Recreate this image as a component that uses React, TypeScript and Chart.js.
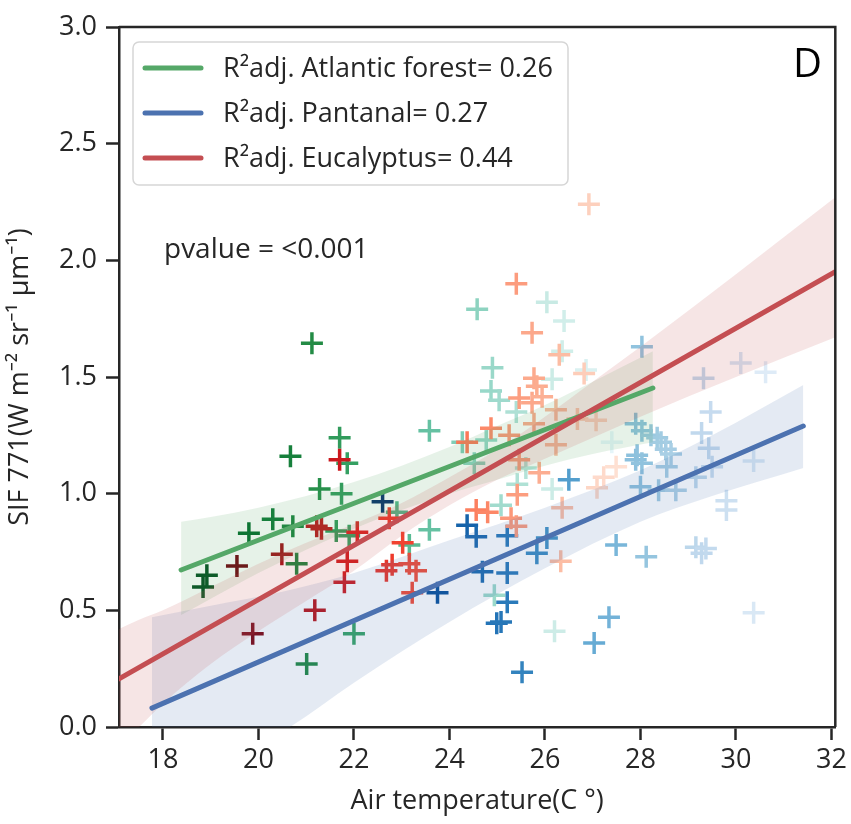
import { useEffect, useRef } from "react";
import { Chart, registerables } from "chart.js";

Chart.register(...registerables);

// ---------- data ----------
const xTicks = [18, 20, 22, 24, 26, 28, 30, 32];
const yTicks = [0, 0.5, 1.0, 1.5, 2.0, 2.5, 3.0];
const seriesNames = ["Atlantic forest", "Pantanal", "Eucalyptus"];
const r2Values = ["0.26", "0.27", "0.44"];
const pValueText = "pvalue = <0.001";
const panelLabel = "D";
const xTitle = "Air temperature(C \u00B0)";
const yTitle = "SIF 771(W m\u207B\u00B2 sr\u207B\u00B9 \u03BCm\u207B\u00B9)";

const forestX = [18.84, 18.92, 19.8, 20.3, 20.72, 20.8, 20.67, 21.01, 21.12, 21.28, 21.63, 21.7, 21.74, 21.86, 21.9, 22.0, 22.9, 23.16, 23.58, 23.58, 24.27, 24.52, 24.58, 24.77, 24.87, 24.9, 24.94, 25.04, 25.08, 25.4, 25.42, 25.6, 26.04, 26.15, 26.15, 26.2, 26.36, 26.4, 26.86, 27.4];
const forestY = [0.6, 0.65, 0.83, 0.89, 0.86, 0.7, 1.16, 0.27, 1.645, 1.02, 0.84, 1.24, 1.0, 1.13, 0.82, 0.4, 0.92, 0.78, 1.27, 0.845, 1.22, 1.13, 1.79, 1.23, 1.44, 1.54, 0.565, 1.4, 0.95, 1.35, 1.04, 1.11, 1.82, 1.49, 1.02, 0.41, 1.61, 1.74, 1.53, 1.22];

const pantanalX = [22.6, 23.75, 24.37, 24.56, 24.69, 24.99, 25.08, 25.21, 25.21, 25.21, 25.52, 25.83, 26.04, 26.5, 27.03, 27.34, 27.49, 27.9, 27.9, 27.93, 28.0, 28.03, 28.03, 28.03, 28.12, 28.22, 28.35, 28.38, 28.43, 28.53, 28.55, 28.64, 28.74, 29.16, 29.16, 29.28, 29.28, 29.32, 29.37, 29.43, 29.47, 29.5, 29.8, 29.8, 30.1, 30.37, 30.37, 30.62];
const pantanalY = [0.965, 0.575, 0.865, 0.815, 0.665, 0.445, 0.45, 0.82, 0.66, 0.535, 0.235, 0.745, 0.81, 1.06, 0.36, 0.47, 0.78, 1.3, 1.145, 1.165, 1.03, 1.63, 1.27, 1.13, 0.73, 1.25, 1.24, 1.015, 1.22, 1.19, 1.115, 1.17, 1.015, 1.07, 0.77, 1.26, 0.745, 1.495, 0.765, 1.195, 1.35, 1.115, 0.97, 0.93, 1.56, 1.14, 0.49, 1.52];

const eucalyptusX = [19.55, 19.88, 20.49, 21.18, 21.22, 21.32, 21.7, 21.8, 21.86, 22.07, 22.68, 22.74, 22.8, 23.02, 23.16, 23.22, 23.3, 24.37, 24.56, 24.8, 24.87, 25.25, 25.29, 25.4, 25.4, 25.42, 25.46, 25.46, 25.73, 25.73, 25.77, 25.77, 25.83, 25.88, 25.94, 26.23, 26.23, 26.3, 26.33, 26.36, 26.68, 26.82, 26.92, 27.07, 27.09, 27.23, 27.49];
const eucalyptusY = [0.69, 0.4, 0.74, 0.5, 0.86, 0.85, 1.145, 0.62, 0.71, 0.835, 0.67, 0.895, 0.695, 0.79, 0.7, 0.575, 0.67, 1.22, 0.93, 0.92, 1.28, 1.25, 0.895, 0.86, 1.9, 0.995, 1.41, 1.145, 1.69, 1.39, 1.495, 1.3, 1.46, 1.09, 1.415, 1.36, 1.21, 1.595, 0.71, 0.94, 1.32, 1.515, 2.24, 1.315, 1.025, 1.07, 1.115];

// regression lines (end points)
const forestFitX = [18.38, 28.26];
const forestFitY = [0.673, 1.453];
const pantanalFitX = [17.77, 31.41];
const pantanalFitY = [0.081, 1.29];
const eucalyptusFitX = [17.08, 32.08];
const eucalyptusFitY = [0.206, 1.951];

// confidence bands
const forestBandX = [18.38, 19, 20, 21, 22, 23, 24, 25, 26, 27, 28.26];
const forestBandLow = [0.48, 0.55, 0.66, 0.76, 0.85, 0.93, 1.0, 1.06, 1.12, 1.17, 1.22];
const forestBandHigh = [0.88, 0.9, 0.94, 0.99, 1.05, 1.12, 1.2, 1.29, 1.38, 1.48, 1.61];

const pantanalBandX = [17.77, 19, 20.5, 22, 24, 26, 28, 29.5, 31.41];
const pantanalBandLow = [-0.35, -0.17, -0.02, 0.19, 0.45, 0.68, 0.88, 0.99, 1.11];
const pantanalBandHigh = [0.47, 0.52, 0.58, 0.66, 0.8, 0.94, 1.1, 1.25, 1.466];

const eucalyptusBandX = [17.08, 17.5, 18, 19, 20, 21, 22, 23, 24, 25, 26, 27, 28, 30, 32.08];
const eucalyptusBandLow = [-0.08, 0.0, 0.1, 0.27, 0.41, 0.54, 0.67, 0.82, 0.95, 1.06, 1.15, 1.24, 1.33, 1.5, 1.67];
const eucalyptusBandHigh = [0.42, 0.46, 0.5, 0.6, 0.7, 0.79, 0.87, 0.96, 1.07, 1.19, 1.33, 1.48, 1.63, 1.94, 2.27];

// ---------- styles ----------
const FONT = "'Open Sans', 'Noto Sans', sans-serif";
const INK = "#262626";
const lineColors = ["#55A868", "#4C72B0", "#C44E52"];
const bandColors = ["rgba(85,168,104,0.15)", "rgba(76,114,176,0.15)", "rgba(196,78,82,0.15)"];
const greenStops = ["#00441b", "#006d2c", "#238b45", "#41ae76", "#66c2a4", "#99d8c9", "#ccece6", "#e5f5f9"];
const blueStops = ["#08306b", "#08519c", "#2171b5", "#4292c6", "#6baed6", "#9ecae1", "#c6dbef", "#deebf7"];
const redStops = ["#67000d", "#a50f15", "#cb181d", "#ef3b2c", "#fb6a4a", "#fc9272", "#fcbba1", "#fee0d2"];

function hexToRgb(h: string) {
  const n = parseInt(h.slice(1), 16);
  return [(n >> 16) & 255, (n >> 8) & 255, n & 255];
}
function shade(v: number, lo: number, hi: number, stops: string[]) {
  let t = (v - lo) / (hi - lo);
  t = Math.max(0, Math.min(1, t)) * (stops.length - 1);
  const i = Math.min(stops.length - 2, Math.floor(t));
  const f = t - i;
  const a = hexToRgb(stops[i]);
  const b = hexToRgb(stops[i + 1]);
  const c = a.map((av, k) => Math.round(av + (b[k] - av) * f));
  return `rgb(${c[0]},${c[1]},${c[2]})`;
}

const pts = (xs: number[], ys: number[]) => xs.map((x, i) => ({ x, y: ys[i] }));

const framePlugin = {
  id: "frameAndLabels",
  afterDraw(chart: any) {
    const { ctx, chartArea: a } = chart;
    ctx.save();
    ctx.strokeStyle = INK;
    ctx.lineWidth = 2.5;
    ctx.beginPath();
    ctx.moveTo(a.left, a.top);
    ctx.lineTo(a.right, a.top);
    ctx.lineTo(a.right, a.bottom);
    ctx.stroke();

    // legend box
    const bx = 133, by = 42, bw = 435, bh = 143, r = 6;
    ctx.beginPath();
    ctx.moveTo(bx + r, by);
    ctx.arcTo(bx + bw, by, bx + bw, by + bh, r);
    ctx.arcTo(bx + bw, by + bh, bx, by + bh, r);
    ctx.arcTo(bx, by + bh, bx, by, r);
    ctx.arcTo(bx, by, bx + bw, by, r);
    ctx.closePath();
    ctx.fillStyle = "rgba(255,255,255,0.8)";
    ctx.fill();
    ctx.strokeStyle = "#d6d6d6";
    ctx.lineWidth = 1.5;
    ctx.stroke();

    ctx.font = `27px ${FONT}`;
    ctx.textBaseline = "middle";
    ctx.textAlign = "left";
    seriesNames.forEach((name, i) => {
      const yy = 68 + i * 45;
      ctx.strokeStyle = lineColors[i];
      ctx.lineWidth = 5;
      ctx.lineCap = "round";
      ctx.beginPath();
      ctx.moveTo(145, yy);
      ctx.lineTo(201, yy);
      ctx.stroke();
      ctx.fillStyle = INK;
      ctx.fillText(`R\u00B2adj. ${name}= ${r2Values[i]}`, 223, yy + 1);
    });

    ctx.fillStyle = INK;
    ctx.font = `28px ${FONT}`;
    ctx.fillText(pValueText, 164, 250);

    ctx.fillStyle = "#000";
    ctx.font = `40px ${FONT}`;
    ctx.textAlign = "right";
    ctx.textBaseline = "alphabetic";
    ctx.fillText(panelLabel, 822, 77);
    ctx.restore();
  },
};

export default function App() {
  const ref = useRef<HTMLCanvasElement>(null);
  useEffect(() => {
    if (!ref.current) return;
    const tickFont = { family: FONT, size: 27 };
    const mkScatter = (xs: number[], ys: number[], lo: number, hi: number, stops: string[], order: number) => {
      const cols = xs.map((x) => shade(x, lo, hi, stops));
      return {
        type: "scatter" as const,
        data: pts(xs, ys),
        pointStyle: "cross",
        pointRadius: 11,
        pointHoverRadius: 11,
        pointBorderWidth: 3.5,
        borderColor: cols,
        backgroundColor: cols,
        order,
      };
    };
    const band = (xs: number[], ys: number[], color: string, order: number, fill: any) => ({
      type: "line" as const,
      data: pts(xs, ys),
      borderWidth: 0,
      borderColor: "rgba(0,0,0,0)",
      backgroundColor: color,
      pointRadius: 0,
      cubicInterpolationMode: "monotone",
      fill,
      order,
    });
    const fit = (xs: number[], ys: number[], color: string, order: number) => ({
      type: "line" as const,
      data: pts(xs, ys),
      borderWidth: 5,
      borderColor: color,
      borderCapStyle: "round",
      pointRadius: 0,
      fill: false,
      order,
    });
    const chart = new Chart(ref.current, {
      type: "scatter",
      data: {
        datasets: [
          mkScatter(forestX, forestY, 18.6, 27.4, greenStops, 12) as any,
          mkScatter(pantanalX, pantanalY, 22.6, 30.6, blueStops, 11) as any,
          mkScatter(eucalyptusX, eucalyptusY, 19.4, 27.4, redStops, 10) as any,
          band(forestBandX, forestBandLow, bandColors[0], 9, false),
          band(forestBandX, forestBandHigh, bandColors[0], 9, 3),
          band(pantanalBandX, pantanalBandLow, bandColors[1], 8, false),
          band(pantanalBandX, pantanalBandHigh, bandColors[1], 8, 5),
          band(eucalyptusBandX, eucalyptusBandLow, bandColors[2], 7, false),
          band(eucalyptusBandX, eucalyptusBandHigh, bandColors[2], 7, 7),
          fit(forestFitX, forestFitY, lineColors[0], 3),
          fit(pantanalFitX, pantanalFitY, lineColors[1], 2),
          fit(eucalyptusFitX, eucalyptusFitY, lineColors[2], 1),
        ],
      },
      options: {
        responsive: false,
        animation: false,
        events: [],
        layout: { padding: { left: 0, top: 27, right: 14, bottom: 0 } },
        plugins: { legend: { display: false }, tooltip: { enabled: false } },
        scales: {
          x: {
            type: "linear",
            min: 17.08,
            max: 32.08,
            afterBuildTicks: (s: any) => {
              s.ticks = xTicks.map((v) => ({ value: v }));
            },
            afterFit: (s: any) => {
              s.height = 97;
            },
            ticks: { font: tickFont, color: INK, padding: 4, maxRotation: 0, autoSkip: false, callback: (v: any) => String(v) },
            grid: { display: true, drawOnChartArea: false, drawTicks: true, tickLength: 13, tickWidth: 2.5, tickColor: INK },
            border: { display: true, width: 2.5, color: INK },
            title: { display: true, text: xTitle, font: tickFont, color: INK, padding: { top: 2, bottom: 6 } },
          },
          y: {
            type: "linear",
            min: 0,
            max: 3,
            afterBuildTicks: (s: any) => {
              s.ticks = yTicks.map((v) => ({ value: v }));
            },
            afterFit: (s: any) => {
              s.width = 119;
            },
            ticks: { font: tickFont, color: INK, padding: 9, autoSkip: false, callback: (v: any) => Number(v).toFixed(1) },
            grid: { display: true, drawOnChartArea: false, drawTicks: true, tickLength: 13, tickWidth: 2.5, tickColor: INK },
            border: { display: true, width: 2.5, color: INK },
            title: { display: true, text: yTitle, font: tickFont, color: INK, padding: { top: 4, bottom: 4 } },
          },
        },
      },
      plugins: [framePlugin],
    });
    return () => chart.destroy();
  }, []);
  return (
    <div style={{ position: "absolute", left: 0, top: 0, width: 851, height: 824, background: "#fff" }}>
      <canvas ref={ref} width={851} height={824} style={{ display: "block" }} />
    </div>
  );
}
